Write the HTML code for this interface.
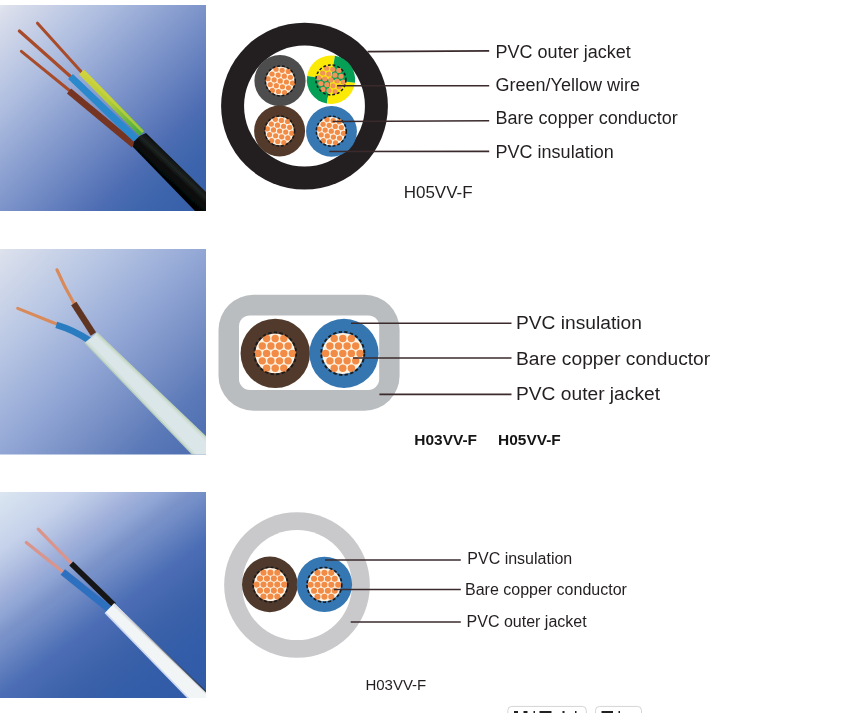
<!DOCTYPE html>
<html><head><meta charset="utf-8"><style>
html,body{margin:0;padding:0;background:#fff;width:864px;height:713px;overflow:hidden}
svg{display:block;filter:blur(0.35px);font-family:"Liberation Sans",sans-serif}
</style></head><body><svg width="864" height="713" viewBox="0 0 864 713" font-family="Liberation Sans, sans-serif"><defs><linearGradient id="g1" x1="0" y1="0" x2="1" y2="1">
<stop offset="0" stop-color="#e2e6f0"/><stop offset="0.025" stop-color="#dbdfec"/>
<stop offset="0.255" stop-color="#afbee0"/><stop offset="0.5" stop-color="#7d94ca"/>
<stop offset="0.73" stop-color="#4e6db3"/><stop offset="0.79" stop-color="#4469ae"/>
<stop offset="0.85" stop-color="#3d65ad"/><stop offset="1" stop-color="#365ea8"/></linearGradient><linearGradient id="g2" x1="0" y1="0" x2="1" y2="1">
<stop offset="0" stop-color="#e0e4ee"/><stop offset="0.015" stop-color="#dbe0ec"/>
<stop offset="0.25" stop-color="#b9c7e4"/><stop offset="0.49" stop-color="#94a8d6"/>
<stop offset="0.73" stop-color="#6d87c0"/><stop offset="0.83" stop-color="#5b79b8"/>
<stop offset="1" stop-color="#4b6cb0"/></linearGradient><linearGradient id="g3" gradientUnits="userSpaceOnUse" x1="16.2" y1="479.8" x2="189.8" y2="710.2">
<stop offset="0" stop-color="#dce6f2"/><stop offset="0.024" stop-color="#d8e3f0"/>
<stop offset="0.165" stop-color="#c5d1ea"/><stop offset="0.222" stop-color="#b5c3e3"/><stop offset="0.29" stop-color="#a0b0da"/>
<stop offset="0.343" stop-color="#90a6d5"/><stop offset="0.401" stop-color="#7a92c8"/>
<stop offset="0.427" stop-color="#7590c8"/><stop offset="0.451" stop-color="#6e89c4"/>
<stop offset="0.549" stop-color="#4f71b6"/><stop offset="0.567" stop-color="#4c6db5"/>
<stop offset="0.711" stop-color="#3a61a9"/><stop offset="0.838" stop-color="#335da9"/>
<stop offset="1" stop-color="#305aa6"/></linearGradient><linearGradient id="gy" gradientUnits="userSpaceOnUse" x1="82" y1="72" x2="142" y2="133"><stop offset="0" stop-color="#cfd23c"/><stop offset="0.45" stop-color="#b4cc3a"/><stop offset="1" stop-color="#43aa44"/></linearGradient><filter id="soft" x="-5%" y="-5%" width="110%" height="110%"><feGaussianBlur stdDeviation="0.6"/></filter><linearGradient id="shd3" gradientUnits="userSpaceOnUse" x1="118" y1="607.5" x2="212" y2="697.5"><stop offset="0" stop-color="#1e2638" stop-opacity="0"/><stop offset="0.5" stop-color="#1e2638" stop-opacity="0.5"/><stop offset="1" stop-color="#1e2638" stop-opacity="0.9"/></linearGradient><linearGradient id="blk" gradientUnits="userSpaceOnUse" x1="146" y1="133" x2="133" y2="147">
<stop offset="0" stop-color="#0c0e0e"/><stop offset="0.35" stop-color="#1e2422"/><stop offset="0.6" stop-color="#0a0c0c"/><stop offset="1" stop-color="#050606"/></linearGradient><linearGradient id="wht2" gradientUnits="userSpaceOnUse" x1="150" y1="386" x2="140" y2="397">
<stop offset="0" stop-color="#b9cfc0"/><stop offset="0.2" stop-color="#d8e5e3"/><stop offset="0.6" stop-color="#dbe6ea"/><stop offset="0.85" stop-color="#cbdcd2"/><stop offset="1" stop-color="#a9bfc3"/></linearGradient><linearGradient id="wht3" gradientUnits="userSpaceOnUse" x1="160" y1="647" x2="150" y2="656">
<stop offset="0" stop-color="#2a3650"/><stop offset="0.15" stop-color="#d8dde2"/><stop offset="0.5" stop-color="#f4f6f6"/><stop offset="0.85" stop-color="#e6eef6"/><stop offset="1" stop-color="#b8c8e8"/></linearGradient></defs><rect x="0" y="5" width="206" height="206" fill="url(#g1)"/><rect x="0" y="249" width="206" height="205.5" fill="url(#g2)"/><rect x="0" y="492" width="206" height="206" fill="url(#g3)"/><svg x="0" y="5" width="206" height="206" viewBox="0 5 206 206" overflow="hidden"><g filter="url(#soft)"><line x1="37.5" y1="23.2" x2="81" y2="71.5" stroke="#a84c2a" stroke-width="3" stroke-linecap="round"/><line x1="19.4" y1="31.1" x2="70" y2="76" stroke="#a84c2a" stroke-width="3.3" stroke-linecap="round"/><line x1="21.4" y1="51.3" x2="69.5" y2="90.5" stroke="#a84c2a" stroke-width="3" stroke-linecap="round"/><line x1="69" y1="91" x2="134" y2="145" stroke="#763520" stroke-width="6.6"/><line x1="70.5" y1="76.5" x2="138" y2="141" stroke="#2b88cc" stroke-width="7"/><line x1="81.5" y1="72" x2="142" y2="133.5" stroke="url(#gy)" stroke-width="7"/><line x1="83" y1="71" x2="143" y2="132" stroke="#d2d640" stroke-width="2.5" stroke-opacity="0.6"/><polygon points="146,133 214,199.9 214,230.6 133,147 134,141.5 139.5,136" fill="url(#blk)"/></g></svg><svg x="0" y="249" width="206" height="205.5" viewBox="0 249 206 205.5" overflow="hidden"><g filter="url(#soft)"><path d="M57,269.8 Q64,286 73.8,303" stroke="#d98a5a" stroke-width="3.2" fill="none" stroke-linecap="round"/><line x1="17.7" y1="308.4" x2="56.5" y2="324" stroke="#d98a5a" stroke-width="3" stroke-linecap="round"/><line x1="73.8" y1="303.5" x2="93.4" y2="334" stroke="#5e3522" stroke-width="6.3"/><path d="M56.3,324.8 Q74,330 89.5,340.5" stroke="#2a7cc0" stroke-width="6.6" fill="none"/><polygon points="96.7,332.8 212,443 212,460 198,460 84.9,342.6" fill="#d2e0dc"/><polygon points="95.5,335.5 212,447 212,460 202,460 88,341" fill="#dbe6e8"/><line x1="96.7" y1="332.8" x2="212" y2="443" stroke="#c3d6bc" stroke-width="1.6"/><line x1="84.9" y1="342.6" x2="198" y2="460" stroke="#b8cdc0" stroke-width="1.4"/></g></svg><svg x="0" y="492" width="206" height="206" viewBox="0 492 206 206" overflow="hidden"><g filter="url(#soft)"><line x1="38.2" y1="529.1" x2="71" y2="563" stroke="#d9948c" stroke-width="3.2" stroke-linecap="round"/><line x1="26.3" y1="542.4" x2="62.5" y2="571.5" stroke="#d9948c" stroke-width="3.2" stroke-linecap="round"/><line x1="71.2" y1="563.5" x2="114" y2="605" stroke="#141414" stroke-width="5.6"/><line x1="62.8" y1="571.9" x2="109" y2="609" stroke="#2f6fc0" stroke-width="7"/><polygon points="114.2,603.2 212,697.6 212,705 195,705 105.2,612.6" fill="#f2f5f6"/><polygon points="114.2,603.2 212,697.6 212,700 112.5,605" fill="#dfe3e6"/><line x1="118" y1="607.5" x2="212" y2="697.5" stroke="url(#shd3)" stroke-width="1.2"/><line x1="105.2" y1="612.6" x2="195" y2="705" stroke="#cfdaf0" stroke-width="1.6"/></g></svg><circle cx="304.5" cy="106.1" r="83.4" fill="#231f20"/><circle cx="304.5" cy="106.05" r="60.45" fill="#fff"/><circle cx="280" cy="80.7" r="25.6" fill="#4e4d4e"/><circle cx="280.3" cy="80.9" r="14.25" fill="#fef2e2"/><circle cx="276.06" cy="69.25" r="2.6" fill="#f28b45"/><circle cx="282.16" cy="70.32" r="2.6" fill="#f28b45"/><circle cx="288.27" cy="71.40" r="2.6" fill="#f28b45"/><circle cx="272.07" cy="74.00" r="2.6" fill="#f28b45"/><circle cx="278.18" cy="75.07" r="2.6" fill="#f28b45"/><circle cx="284.29" cy="76.15" r="2.6" fill="#f28b45"/><circle cx="290.39" cy="77.23" r="2.6" fill="#f28b45"/><circle cx="268.09" cy="78.75" r="2.6" fill="#f28b45"/><circle cx="274.19" cy="79.82" r="2.6" fill="#f28b45"/><circle cx="280.30" cy="80.90" r="2.6" fill="#f28b45"/><circle cx="286.41" cy="81.98" r="2.6" fill="#f28b45"/><circle cx="292.51" cy="83.05" r="2.6" fill="#f28b45"/><circle cx="270.21" cy="84.57" r="2.6" fill="#f28b45"/><circle cx="276.31" cy="85.65" r="2.6" fill="#f28b45"/><circle cx="282.42" cy="86.73" r="2.6" fill="#f28b45"/><circle cx="288.53" cy="87.80" r="2.6" fill="#f28b45"/><circle cx="272.33" cy="90.40" r="2.6" fill="#f28b45"/><circle cx="278.44" cy="91.48" r="2.6" fill="#f28b45"/><circle cx="284.54" cy="92.55" r="2.6" fill="#f28b45"/><circle cx="280.3" cy="80.9" r="15" fill="none" stroke="#1a1a1a" stroke-width="1.5" stroke-dasharray="2.8 2"/><circle cx="279.6" cy="131" r="25.5" fill="#533a2a"/><circle cx="279.6" cy="131" r="14.25" fill="#fef2e2"/><circle cx="275.36" cy="119.35" r="2.6" fill="#f28b45"/><circle cx="281.46" cy="120.42" r="2.6" fill="#f28b45"/><circle cx="287.57" cy="121.50" r="2.6" fill="#f28b45"/><circle cx="271.37" cy="124.10" r="2.6" fill="#f28b45"/><circle cx="277.48" cy="125.17" r="2.6" fill="#f28b45"/><circle cx="283.59" cy="126.25" r="2.6" fill="#f28b45"/><circle cx="289.69" cy="127.33" r="2.6" fill="#f28b45"/><circle cx="267.39" cy="128.85" r="2.6" fill="#f28b45"/><circle cx="273.49" cy="129.92" r="2.6" fill="#f28b45"/><circle cx="279.60" cy="131.00" r="2.6" fill="#f28b45"/><circle cx="285.71" cy="132.08" r="2.6" fill="#f28b45"/><circle cx="291.81" cy="133.15" r="2.6" fill="#f28b45"/><circle cx="269.51" cy="134.67" r="2.6" fill="#f28b45"/><circle cx="275.61" cy="135.75" r="2.6" fill="#f28b45"/><circle cx="281.72" cy="136.83" r="2.6" fill="#f28b45"/><circle cx="287.83" cy="137.90" r="2.6" fill="#f28b45"/><circle cx="271.63" cy="140.50" r="2.6" fill="#f28b45"/><circle cx="277.74" cy="141.58" r="2.6" fill="#f28b45"/><circle cx="283.84" cy="142.65" r="2.6" fill="#f28b45"/><circle cx="279.6" cy="131" r="15" fill="none" stroke="#1a1a1a" stroke-width="1.5" stroke-dasharray="2.8 2"/><circle cx="331.5" cy="131.4" r="25.4" fill="#3778b2"/><circle cx="331.3" cy="131.2" r="14.25" fill="#fef2e2"/><circle cx="327.06" cy="119.55" r="2.6" fill="#f28b45"/><circle cx="333.16" cy="120.62" r="2.6" fill="#f28b45"/><circle cx="339.27" cy="121.70" r="2.6" fill="#f28b45"/><circle cx="323.07" cy="124.30" r="2.6" fill="#f28b45"/><circle cx="329.18" cy="125.37" r="2.6" fill="#f28b45"/><circle cx="335.29" cy="126.45" r="2.6" fill="#f28b45"/><circle cx="341.39" cy="127.53" r="2.6" fill="#f28b45"/><circle cx="319.09" cy="129.05" r="2.6" fill="#f28b45"/><circle cx="325.19" cy="130.12" r="2.6" fill="#f28b45"/><circle cx="331.30" cy="131.20" r="2.6" fill="#f28b45"/><circle cx="337.41" cy="132.28" r="2.6" fill="#f28b45"/><circle cx="343.51" cy="133.35" r="2.6" fill="#f28b45"/><circle cx="321.21" cy="134.87" r="2.6" fill="#f28b45"/><circle cx="327.31" cy="135.95" r="2.6" fill="#f28b45"/><circle cx="333.42" cy="137.03" r="2.6" fill="#f28b45"/><circle cx="339.53" cy="138.10" r="2.6" fill="#f28b45"/><circle cx="323.33" cy="140.70" r="2.6" fill="#f28b45"/><circle cx="329.44" cy="141.78" r="2.6" fill="#f28b45"/><circle cx="335.54" cy="142.85" r="2.6" fill="#f28b45"/><circle cx="331.3" cy="131.2" r="15" fill="none" stroke="#1a1a1a" stroke-width="1.5" stroke-dasharray="2.8 2"/><path d="M331,79.7 L334.95,55.82 A24.2,24.2 0 0 0 307.10,75.91 Z" fill="#faea05"/><path d="M331,79.7 L307.10,75.91 A24.2,24.2 0 0 0 326.80,103.53 Z" fill="#05a055"/><path d="M331,79.7 L326.80,103.53 A24.2,24.2 0 0 0 354.99,82.86 Z" fill="#faea05"/><path d="M331,79.7 L354.99,82.86 A24.2,24.2 0 0 0 334.95,55.82 Z" fill="#05a055"/><circle cx="326.66" cy="68.25" r="2.6" fill="#f0955a"/><circle cx="332.76" cy="69.32" r="2.6" fill="#f0955a"/><circle cx="338.87" cy="70.40" r="2.6" fill="#f0955a"/><circle cx="322.67" cy="73.00" r="2.6" fill="#f0955a"/><circle cx="328.78" cy="74.07" r="2.6" fill="#f0955a"/><circle cx="334.89" cy="75.15" r="2.6" fill="#f0955a"/><circle cx="340.99" cy="76.23" r="2.6" fill="#f0955a"/><circle cx="318.69" cy="77.75" r="2.6" fill="#f0955a"/><circle cx="324.79" cy="78.82" r="2.6" fill="#f0955a"/><circle cx="330.90" cy="79.90" r="2.6" fill="#f0955a"/><circle cx="337.01" cy="80.98" r="2.6" fill="#f0955a"/><circle cx="343.11" cy="82.05" r="2.6" fill="#f0955a"/><circle cx="320.81" cy="83.57" r="2.6" fill="#f0955a"/><circle cx="326.91" cy="84.65" r="2.6" fill="#f0955a"/><circle cx="333.02" cy="85.73" r="2.6" fill="#f0955a"/><circle cx="339.13" cy="86.80" r="2.6" fill="#f0955a"/><circle cx="322.93" cy="89.40" r="2.6" fill="#f0955a"/><circle cx="329.04" cy="90.48" r="2.6" fill="#f0955a"/><circle cx="335.14" cy="91.55" r="2.6" fill="#f0955a"/><circle cx="330.9" cy="79.9" r="15" fill="none" stroke="#1a1a1a" stroke-width="1.5" stroke-dasharray="2.8 2"/><line x1="367.5" y1="51.6" x2="489.2" y2="50.9" stroke="#3a2a2c" stroke-width="1.6"/><line x1="337" y1="85.8" x2="489.2" y2="85.8" stroke="#3a2a2c" stroke-width="1.6"/><line x1="332.6" y1="121.5" x2="489.2" y2="120.8" stroke="#3a2a2c" stroke-width="1.6"/><line x1="329.3" y1="151.5" x2="489.2" y2="151.4" stroke="#3a2a2c" stroke-width="1.6"/><text x="495.6" y="58" font-size="18" fill="#231f20">PVC outer jacket</text><text x="495.6" y="91" font-size="18" fill="#231f20">Green/Yellow wire</text><text x="495.6" y="124.3" font-size="18" fill="#231f20">Bare copper conductor</text><text x="495.6" y="158.3" font-size="18" fill="#231f20">PVC insulation</text><text x="403.7" y="198.4" font-size="17" fill="#231f20">H05VV-F</text><rect x="218.5" y="294.8" width="181.1" height="115.9" rx="35" ry="35" fill="#babdbf"/><rect x="239" y="315.4" width="140.2" height="74.5" rx="11" ry="11" fill="#fff"/><circle cx="275.3" cy="353.4" r="34.7" fill="#513a2c"/><circle cx="275.2" cy="353.4" r="19.95" fill="#fef2e2"/><circle cx="266.60" cy="338.50" r="3.7" fill="#f28b45"/><circle cx="275.20" cy="338.50" r="3.7" fill="#f28b45"/><circle cx="283.80" cy="338.50" r="3.7" fill="#f28b45"/><circle cx="262.30" cy="345.95" r="3.7" fill="#f28b45"/><circle cx="270.90" cy="345.95" r="3.7" fill="#f28b45"/><circle cx="279.50" cy="345.95" r="3.7" fill="#f28b45"/><circle cx="288.10" cy="345.95" r="3.7" fill="#f28b45"/><circle cx="258.00" cy="353.40" r="3.7" fill="#f28b45"/><circle cx="266.60" cy="353.40" r="3.7" fill="#f28b45"/><circle cx="275.20" cy="353.40" r="3.7" fill="#f28b45"/><circle cx="283.80" cy="353.40" r="3.7" fill="#f28b45"/><circle cx="292.40" cy="353.40" r="3.7" fill="#f28b45"/><circle cx="262.30" cy="360.85" r="3.7" fill="#f28b45"/><circle cx="270.90" cy="360.85" r="3.7" fill="#f28b45"/><circle cx="279.50" cy="360.85" r="3.7" fill="#f28b45"/><circle cx="288.10" cy="360.85" r="3.7" fill="#f28b45"/><circle cx="266.60" cy="368.30" r="3.7" fill="#f28b45"/><circle cx="275.20" cy="368.30" r="3.7" fill="#f28b45"/><circle cx="283.80" cy="368.30" r="3.7" fill="#f28b45"/><circle cx="275.2" cy="353.4" r="21" fill="none" stroke="#1a1a1a" stroke-width="1.8" stroke-dasharray="3.4 2.3"/><circle cx="344" cy="353.4" r="34.6" fill="#3576b1"/><circle cx="342.8" cy="353.4" r="20.52" fill="#fef2e2"/><circle cx="334.20" cy="338.50" r="3.7" fill="#f28b45"/><circle cx="342.80" cy="338.50" r="3.7" fill="#f28b45"/><circle cx="351.40" cy="338.50" r="3.7" fill="#f28b45"/><circle cx="329.90" cy="345.95" r="3.7" fill="#f28b45"/><circle cx="338.50" cy="345.95" r="3.7" fill="#f28b45"/><circle cx="347.10" cy="345.95" r="3.7" fill="#f28b45"/><circle cx="355.70" cy="345.95" r="3.7" fill="#f28b45"/><circle cx="325.60" cy="353.40" r="3.7" fill="#f28b45"/><circle cx="334.20" cy="353.40" r="3.7" fill="#f28b45"/><circle cx="342.80" cy="353.40" r="3.7" fill="#f28b45"/><circle cx="351.40" cy="353.40" r="3.7" fill="#f28b45"/><circle cx="360.00" cy="353.40" r="3.7" fill="#f28b45"/><circle cx="329.90" cy="360.85" r="3.7" fill="#f28b45"/><circle cx="338.50" cy="360.85" r="3.7" fill="#f28b45"/><circle cx="347.10" cy="360.85" r="3.7" fill="#f28b45"/><circle cx="355.70" cy="360.85" r="3.7" fill="#f28b45"/><circle cx="334.20" cy="368.30" r="3.7" fill="#f28b45"/><circle cx="342.80" cy="368.30" r="3.7" fill="#f28b45"/><circle cx="351.40" cy="368.30" r="3.7" fill="#f28b45"/><circle cx="342.8" cy="353.4" r="21.6" fill="none" stroke="#1a1a1a" stroke-width="1.8" stroke-dasharray="3.4 2.3"/><line x1="351" y1="323.2" x2="511.5" y2="323.2" stroke="#3a2a2c" stroke-width="1.6"/><line x1="353" y1="358" x2="511.5" y2="358" stroke="#3a2a2c" stroke-width="1.6"/><line x1="379.4" y1="394.4" x2="511.5" y2="394.4" stroke="#3a2a2c" stroke-width="1.6"/><text x="516" y="328.6" font-size="19.2" fill="#231f20">PVC insulation</text><text x="516" y="364.5" font-size="19.2" fill="#231f20">Bare copper conductor</text><text x="516" y="399.8" font-size="19.2" fill="#231f20">PVC outer jacket</text><text transform="translate(414.3,445.1) scale(1.09,1)" font-size="14.2" font-weight="bold" fill="#151515">H03VV-F</text><text transform="translate(498,445.1) scale(1.09,1)" font-size="14.2" font-weight="bold" fill="#151515">H05VV-F</text><circle cx="297" cy="585" r="72.85" fill="#c9c9cb"/><circle cx="297" cy="585.1" r="55" fill="#fff"/><circle cx="269.8" cy="584.4" r="27.8" fill="#4e392c"/><circle cx="270.4" cy="584.6" r="16.53" fill="#fef2e2"/><circle cx="263.50" cy="572.65" r="3.05" fill="#f28b45"/><circle cx="270.40" cy="572.65" r="3.05" fill="#f28b45"/><circle cx="277.30" cy="572.65" r="3.05" fill="#f28b45"/><circle cx="260.05" cy="578.62" r="3.05" fill="#f28b45"/><circle cx="266.95" cy="578.62" r="3.05" fill="#f28b45"/><circle cx="273.85" cy="578.62" r="3.05" fill="#f28b45"/><circle cx="280.75" cy="578.62" r="3.05" fill="#f28b45"/><circle cx="256.60" cy="584.60" r="3.05" fill="#f28b45"/><circle cx="263.50" cy="584.60" r="3.05" fill="#f28b45"/><circle cx="270.40" cy="584.60" r="3.05" fill="#f28b45"/><circle cx="277.30" cy="584.60" r="3.05" fill="#f28b45"/><circle cx="284.20" cy="584.60" r="3.05" fill="#f28b45"/><circle cx="260.05" cy="590.58" r="3.05" fill="#f28b45"/><circle cx="266.95" cy="590.58" r="3.05" fill="#f28b45"/><circle cx="273.85" cy="590.58" r="3.05" fill="#f28b45"/><circle cx="280.75" cy="590.58" r="3.05" fill="#f28b45"/><circle cx="263.50" cy="596.55" r="3.05" fill="#f28b45"/><circle cx="270.40" cy="596.55" r="3.05" fill="#f28b45"/><circle cx="277.30" cy="596.55" r="3.05" fill="#f28b45"/><circle cx="270.4" cy="584.6" r="17.4" fill="none" stroke="#1a1a1a" stroke-width="1.6" stroke-dasharray="3 2.1"/><circle cx="324.4" cy="584.4" r="27.7" fill="#3577b3"/><circle cx="324.4" cy="584.8" r="16.53" fill="#fef2e2"/><circle cx="317.50" cy="572.85" r="3.05" fill="#f28b45"/><circle cx="324.40" cy="572.85" r="3.05" fill="#f28b45"/><circle cx="331.30" cy="572.85" r="3.05" fill="#f28b45"/><circle cx="314.05" cy="578.82" r="3.05" fill="#f28b45"/><circle cx="320.95" cy="578.82" r="3.05" fill="#f28b45"/><circle cx="327.85" cy="578.82" r="3.05" fill="#f28b45"/><circle cx="334.75" cy="578.82" r="3.05" fill="#f28b45"/><circle cx="310.60" cy="584.80" r="3.05" fill="#f28b45"/><circle cx="317.50" cy="584.80" r="3.05" fill="#f28b45"/><circle cx="324.40" cy="584.80" r="3.05" fill="#f28b45"/><circle cx="331.30" cy="584.80" r="3.05" fill="#f28b45"/><circle cx="338.20" cy="584.80" r="3.05" fill="#f28b45"/><circle cx="314.05" cy="590.78" r="3.05" fill="#f28b45"/><circle cx="320.95" cy="590.78" r="3.05" fill="#f28b45"/><circle cx="327.85" cy="590.78" r="3.05" fill="#f28b45"/><circle cx="334.75" cy="590.78" r="3.05" fill="#f28b45"/><circle cx="317.50" cy="596.75" r="3.05" fill="#f28b45"/><circle cx="324.40" cy="596.75" r="3.05" fill="#f28b45"/><circle cx="331.30" cy="596.75" r="3.05" fill="#f28b45"/><circle cx="324.4" cy="584.8" r="17.4" fill="none" stroke="#1a1a1a" stroke-width="1.6" stroke-dasharray="3 2.1"/><line x1="325" y1="560" x2="460.8" y2="560" stroke="#3a2a2c" stroke-width="1.5"/><line x1="333.9" y1="589.5" x2="460.8" y2="589.5" stroke="#3a2a2c" stroke-width="1.5"/><line x1="350.7" y1="622" x2="460.8" y2="622" stroke="#3a2a2c" stroke-width="1.5"/><text x="467.3" y="564" font-size="16" fill="#231f20">PVC insulation</text><text x="465" y="594.8" font-size="16" fill="#231f20">Bare copper conductor</text><text x="466.6" y="626.5" font-size="16" fill="#231f20">PVC outer jacket</text><text x="365.4" y="689.8" font-size="15" fill="#231f20">H03VV-F</text><rect x="507.8" y="706.4" width="78.5" height="20" rx="4" fill="#fff" stroke="#d4d4d4" stroke-width="1"/><rect x="595.5" y="706.4" width="46" height="20" rx="4" fill="#fff" stroke="#d4d4d4" stroke-width="1"/><rect x="514" y="711" width="4" height="2" fill="#222"/><rect x="523.5" y="711" width="4" height="2" fill="#222"/><rect x="533.5" y="711" width="1.5" height="2" fill="#222"/><rect x="539.5" y="711" width="12" height="2" fill="#222"/><rect x="562.5" y="711" width="2" height="2" fill="#222"/><rect x="575" y="711" width="1.5" height="2" fill="#222"/><rect x="601.5" y="711" width="11.5" height="2" fill="#222"/><rect x="618.5" y="711" width="1.5" height="2" fill="#222"/></svg></body></html>
